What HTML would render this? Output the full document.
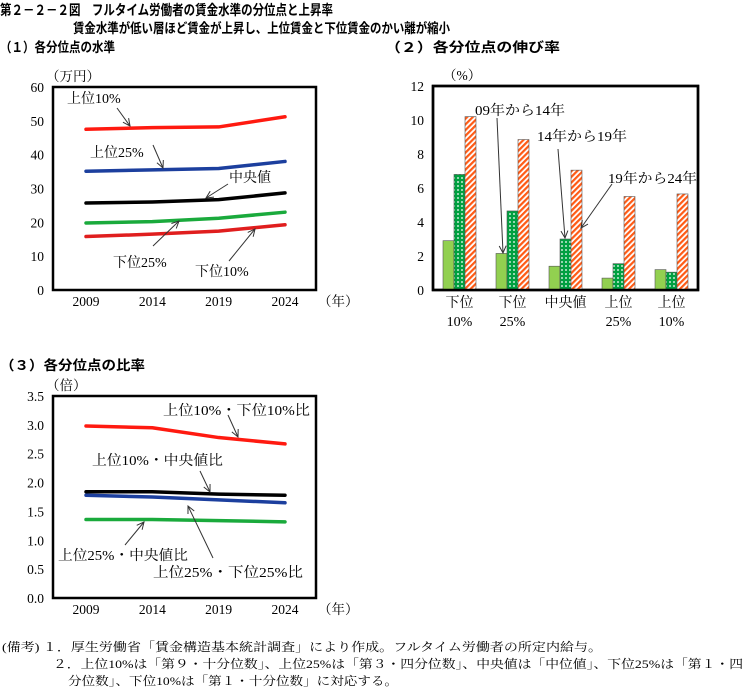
<!DOCTYPE html>
<html><head><meta charset="utf-8"><style>
body{margin:0;background:#fff}
svg{display:block;font-family:"Liberation Serif","Noto Serif CJK SC",serif}
.g{font-family:"Liberation Sans","Noto Sans CJK JP",sans-serif;font-weight:bold}
</style></head><body>
<svg id="s" width="747" height="689" viewBox="0 0 747 689" xmlns="http://www.w3.org/2000/svg">
<defs>
<pattern id="dots" width="4" height="4" patternUnits="userSpaceOnUse"><rect width="4" height="4" fill="#00a040"/><circle cx="2" cy="2" r="0.9" fill="#fff"/></pattern>
<pattern id="stripe" width="4" height="4" patternUnits="userSpaceOnUse" patternTransform="rotate(45)"><rect width="4" height="4" fill="#fff"/><rect width="2.2" height="4" fill="#ff5a14"/></pattern>
</defs>
<text class="g" x="0" y="15" font-size="14" textLength="333" lengthAdjust="spacingAndGlyphs">第２－２－２図　フルタイム労働者の賃金水準の分位点と上昇率</text>
<text class="g" x="73" y="33" font-size="13.5" textLength="377" lengthAdjust="spacingAndGlyphs">賃金水準が低い層ほど賃金が上昇し、上位賃金と下位賃金のかい離が縮小</text>
<text class="g" x="0" y="52" font-size="13.5" textLength="115" lengthAdjust="spacingAndGlyphs">（１）各分位点の水準</text>
<text class="g" x="385" y="52" font-size="13.5" textLength="175" lengthAdjust="spacingAndGlyphs">（２）各分位点の伸び率</text>
<text class="g" x="0" y="370" font-size="13.5" textLength="145" lengthAdjust="spacingAndGlyphs">（３）各分位点の比率</text>
<g id="c1"></g>
<g id="c2"></g>
<g id="c3"></g>
<g font-size="12">
<text x="2" y="651" textLength="600" lengthAdjust="spacingAndGlyphs">(備考) １．厚生労働省「賃金構造基本統計調査」により作成。フルタイム労働者の所定内給与。</text>
<text x="53" y="668" textLength="690" lengthAdjust="spacingAndGlyphs">２．上位10%は「第９・十分位数」、上位25%は「第３・四分位数」、中央値は「中位値」、下位25%は「第１・四</text>
<text x="68" y="685" textLength="330" lengthAdjust="spacingAndGlyphs">分位数」、下位10%は「第１・十分位数」に対応する。</text>
</g>
</svg>
<script>
const years=["2009","2014","2019","2024"];
const top10=[47.5,48.0,48.2,51.2];
const top25=[35.1,35.5,35.9,38.0];
const median=[25.7,26.0,26.7,28.7];
const low25=[19.8,20.2,21.2,23.0];
const low10=[15.8,16.5,17.4,19.3];
const ticks1=[0,10,20,30,40,50,60];

const groups=[["下位","10%"],["下位","25%"],["中央値",""],["上位","25%"],["上位","10%"]];
const g0914=[2.9,2.15,1.4,0.7,1.2];
const g1419=[6.8,4.65,3.0,1.55,1.05];
const g1924=[10.2,8.85,7.05,5.5,5.65];
const ticks2=[0,2,4,6,8,10,12];

const r10_10=[2.98,2.95,2.78,2.67];
const r10_med=[1.84,1.84,1.80,1.78];
const r25_25=[1.78,1.75,1.70,1.65];
const r25_med=[1.36,1.36,1.34,1.32];
const ticks3=["0.0","0.5","1.0","1.5","2.0","2.5","3.0","3.5"];

const NS="http://www.w3.org/2000/svg";
function mk(p,t,a,txt){const e=document.createElementNS(NS,t);for(const k in a)e.setAttribute(k,a[k]);if(txt!=null)e.textContent=txt;p.appendChild(e);return e;}
function arrow(p,x1,y1,x2,y2){
  const l=mk(p,'line',{x1,y1,x2,y2,stroke:'#333','stroke-width':1});
  
  
  const a=Math.atan2(y2-y1,x2-x1),L=8,w=0.45;
  mk(p,'polyline',{points:`${x2-L*Math.cos(a-w)},${y2-L*Math.sin(a-w)} ${x2},${y2} ${x2-L*Math.cos(a+w)},${y2-L*Math.sin(a+w)}`,fill:'none',stroke:'#333','stroke-width':1});
}
function label(p,x,y,t,name,len){const e=mk(p,'text',{x,y,'font-size':14},t);if(len){e.setAttribute('textLength',len);e.setAttribute('lengthAdjust','spacingAndGlyphs');}
  
  return e;}

const X0=53,X1=316;
const xs=i=>86+i*(285-86)/3;

function lineChart(g,top,bottom,maxV,ticks,series,unit){
  const y=v=>bottom-(v/maxV)*(bottom-top);
  mk(g,'rect',{x:X0,y:top,width:X1-X0,height:bottom-top,fill:'#fff',stroke:'#000','stroke-width':2.5});
  ticks.forEach(t=>{const e=mk(g,'text',{x:44,y:y(+t)+5,'font-size':13.5,'text-anchor':'end'},t);
    
    });
  years.forEach((yr,i)=>{const e=mk(g,'text',{x:xs(i),y:bottom+16,'font-size':13.5,'text-anchor':'middle'},yr);
    
    });
  const u=mk(g,'text',{x:46,y:top-6,'font-size':13.5},unit);
  
  
  const yu=mk(g,'text',{x:318,y:bottom+16,'font-size':13.5},'（年）');
  
  
  series.forEach(([d,c,n])=>{
    const pl=mk(g,'polyline',{points:d.map((v,i)=>xs(i)+','+y(v)).join(' '),fill:'none',stroke:c,'stroke-width':3.5,'stroke-linejoin':'round','stroke-linecap':'round'});
    
    
  });
}

const c1=document.getElementById('c1');
lineChart(c1,87,290,60,ticks1.map(String),[[top10,'#ff1a10','line-top10'],[top25,'#1c3f9e','line-top25'],[median,'#000','line-median'],[low25,'#1aaa3c','line-low25'],[low10,'#e01e1e','line-low10']],'（万円）');
label(c1,67,103,'上位10%','label-top10');arrow(c1,117,108,130,126);
label(c1,90,157,'上位25%','label-top25');arrow(c1,153,145,163,168);
label(c1,229,182,'中央値','label-median');arrow(c1,228,184,206,198);
label(c1,113,267,'下位25%','label-low25');arrow(c1,153,246,179,221);
label(c1,195,276,'下位10%','label-low10');arrow(c1,229,261,255,229);

const c2=document.getElementById('c2');
(function(){
  const L=433,R=698,T=86,B=290,y=v=>B-(v/12)*(B-T),gw=(R-L)/groups.length,bw=11;
  mk(c2,'rect',{x:L,y:T,width:R-L,height:B-T,fill:'#fff',stroke:'#000','stroke-width':2.5});
  ticks2.forEach(t=>{const e=mk(c2,'text',{x:424,y:y(t)+5,'font-size':13.5,'text-anchor':'end'},t);
    
    });
  const u=mk(c2,'text',{x:443,y:80,'font-size':13.5},'（%）');
  
  
  const sets=[[g0914,'#92d050'],[g1419,'url(#dots)'],[g1924,'url(#stripe)']];
  groups.forEach((gn,i)=>{
    const cx=L+gw*(i+0.5);
    sets.forEach(([d,f],k)=>{
      const r=mk(c2,'rect',{x:cx-16.5+k*bw,y:y(d[i]),width:bw,height:B-y(d[i]),fill:f,stroke:'#555','stroke-width':0.6});
      
      
    });
    gn.forEach((t,j)=>{if(!t)return;const e=mk(c2,'text',{x:cx,y:307+j*19,'font-size':14,'text-anchor':'middle'},t);
      
      });
  });
  mk(c2,'rect',{x:L,y:T,width:R-L,height:B-T,fill:'none',stroke:'#000','stroke-width':2.5});
  label(c2,475,115,'09年から14年','label-09-14',90);arrow(c2,497,118,503,253);
  label(c2,537,141,'14年から19年','label-14-19',90);arrow(c2,558,149,565,238);
  label(c2,608,183,'19年から24年','label-19-24',89);arrow(c2,612,184,581,228);
})();

const c3=document.getElementById('c3');
lineChart(c3,396,598,3.5,ticks3,[[r10_10,'#ff1a10','line-top10-low10'],[r10_med,'#000','line-top10-median'],[r25_25,'#1c3f9e','line-top25-low25'],[r25_med,'#1aaa3c','line-top25-median']],'（倍）');
label(c3,163,415,'上位10%・下位10%比','label-top10-low10',147);arrow(c3,228,415,238,437);
label(c3,92,465,'上位10%・中央値比','label-top10-median',131);arrow(c3,200,471,210,492);
label(c3,58,560,'上位25%・中央値比','label-top25-median',130);arrow(c3,125,545,144,522);
label(c3,153,577,'上位25%・下位25%比','label-top25-low25',150);arrow(c3,213,558,188,506);
</script>
</body></html>
